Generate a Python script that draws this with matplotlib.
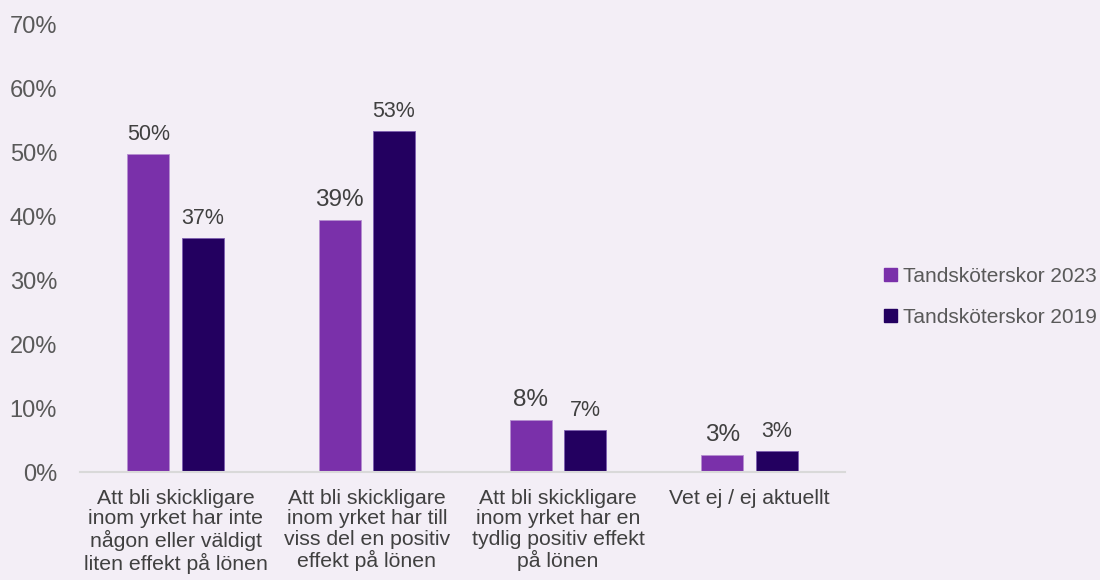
import numpy as np
import matplotlib.pyplot as plt
from matplotlib.patches import Patch

plt.rcParams['font.family'] = ['Liberation Sans', 'DejaVu Sans']

categories = [
    'Att bli skickligare\ninom yrket har inte\nnågon eller väldigt\nliten effekt på lönen',
    'Att bli skickligare\ninom yrket har till\nviss del en positiv\neffekt på lönen',
    'Att bli skickligare\ninom yrket har en\ntydlig positiv effekt\npå lönen',
    'Vet ej / ej aktuellt',
]
series_names = ['Tandsköterskor 2023', 'Tandsköterskor 2019']
values_2023 = [49.8, 39.4, 8.1, 2.7]
values_2019 = [36.6, 53.4, 6.6, 3.3]
labels_2023 = ['50%', '39%', '8%', '3%']
labels_2019 = ['37%', '53%', '7%', '3%']
label_sizes_2023 = [15.5, 17.5, 17.5, 17.5]

bg = '#F3EEF6'
c2023 = '#7A30AA'
c2019 = '#230060'

fig = plt.figure(figsize=(11, 5.8), dpi=100, facecolor=bg)
ax = fig.add_axes([0.0727, 0.1862, 0.6955, 0.7707])
ax.set_facecolor(bg)

x = np.arange(len(categories))
w = 0.22
off = 0.142
ax.bar(x - off, values_2023, w, color=c2023, edgecolor='#B58FD0', linewidth=0.6)
ax.bar(x + off, values_2019, w, color=c2019, edgecolor='#7E5FB0', linewidth=0.6)

for i in range(len(categories)):
    ax.text(x[i] - off, values_2023[i] + 1.4, labels_2023[i], ha='center', va='bottom',
            fontsize=label_sizes_2023[i], color='#404040')
    ax.text(x[i] + off, values_2019[i] + 1.4, labels_2019[i], ha='center', va='bottom',
            fontsize=15.5, color='#404040')

ax.set_xlim(-0.5, 3.5)
ax.set_ylim(0, 70)
ax.set_yticks(np.arange(0, 71, 10))
ax.set_yticklabels([f'{v}%' for v in range(0, 71, 10)])
ax.set_xticks(x)
ax.set_xticklabels(categories, linespacing=1.1)
ax.tick_params(axis='y', length=0, labelsize=17, labelcolor='#595959', pad=16.5)
ax.tick_params(axis='x', length=0, labelsize=15.3, labelcolor='#404040', pad=12)
for s in ['top', 'right', 'left']:
    ax.spines[s].set_visible(False)
ax.spines['bottom'].set_color('#D9D9D9')
ax.spines['bottom'].set_linewidth(1.5)

handles = [Patch(color=c2023), Patch(color=c2019)]
fig.legend(handles, series_names, loc='center left', bbox_to_anchor=(0.787, 0.488),
           frameon=False, fontsize=15, labelcolor='#595959', handlelength=0.6,
           handleheight=0.6, handletextpad=0.3, labelspacing=1.05)

fig.savefig('out.png', dpi=100, facecolor=bg)
